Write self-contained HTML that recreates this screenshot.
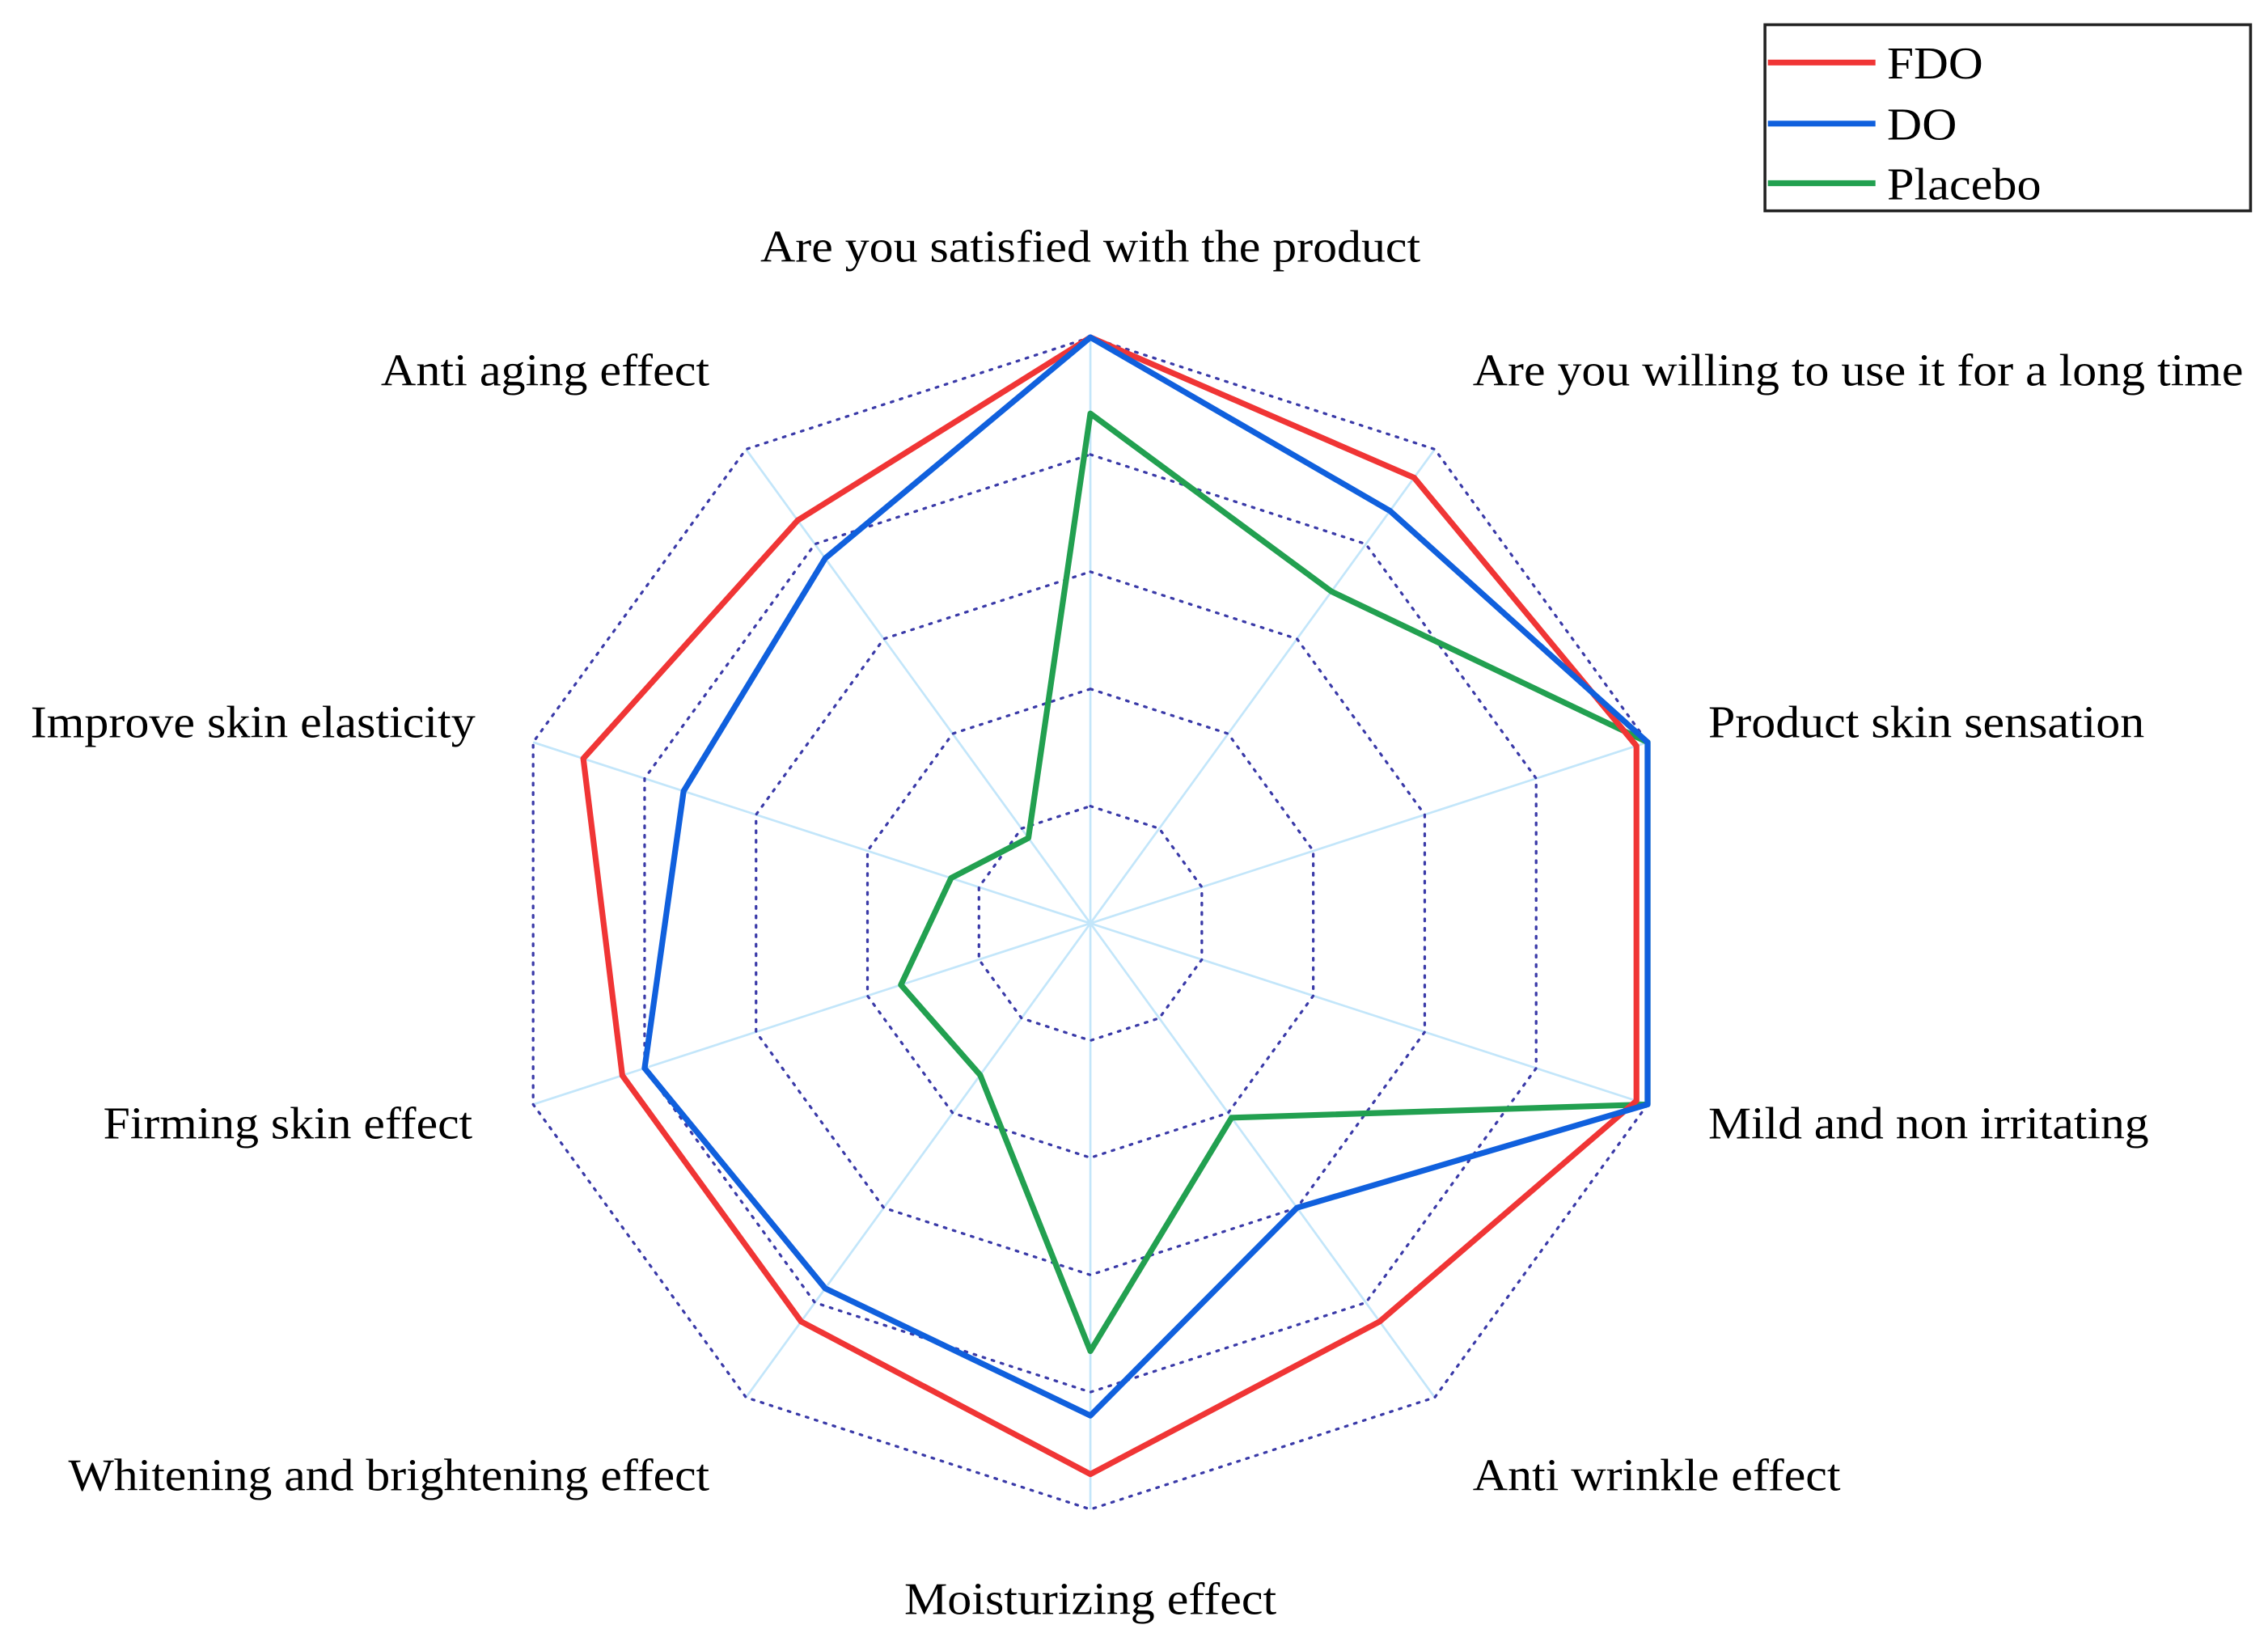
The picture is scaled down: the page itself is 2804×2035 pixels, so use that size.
<!DOCTYPE html>
<html><head><meta charset="utf-8"><style>
html,body{margin:0;padding:0;background:#fff;}
svg{display:block;}
text{font-family:"Liberation Serif",serif;fill:#000;}
</style></head><body>
<svg id="chart" width="2804" height="2035" viewBox="0 0 1560 1132" preserveAspectRatio="none" xmlns="http://www.w3.org/2000/svg">
<g id="grid"></g>
<g id="series"></g>
<g id="labels"></g>
<g id="legend">
<rect x="1214" y="17" width="334" height="128" fill="#fff" stroke="#222" stroke-width="2"/>
<line x1="1216" y1="43" x2="1290" y2="43" stroke="#f03535" stroke-width="4"/>
<text x="1298" y="54" font-size="31" textLength="66" lengthAdjust="spacingAndGlyphs">FDO</text>
<line x1="1216" y1="85" x2="1290" y2="85" stroke="#1060dd" stroke-width="4"/>
<text x="1298" y="96" font-size="31" textLength="48" lengthAdjust="spacingAndGlyphs">DO</text>
<line x1="1216" y1="126" x2="1290" y2="126" stroke="#22a050" stroke-width="4"/>
<text x="1298" y="137" font-size="31" textLength="106" lengthAdjust="spacingAndGlyphs">Placebo</text>
</g>
</svg>
<script>
const categories = ["Are you satisfied with the product","Are you willing to use it for a long time","Product skin sensation","Mild and non irritating","Anti wrinkle effect","Moisturizing effect","Whitening and brightening effect","Firming skin effect","Improve skin elasticity","Anti aging effect"];
const fdoValues = [5.0,4.7,4.9,4.9,4.2,4.7,4.2,4.2,4.55,4.25];
const doValues = [5.0,4.35,5.0,5.0,3.0,4.2,3.85,4.0,3.65,3.85];
const placeboValues = [4.35,3.5,5.0,5.0,2.05,3.65,1.6,1.7,1.25,0.9];
const ringLevels = [1,2,3,4,5];
const maxValue = 5;

const NS="http://www.w3.org/2000/svg";
const cx=750, cy=635, R=403;
function ang(i){return i*2*Math.PI/categories.length;}
function pt(i,v){const r=R*v/maxValue;return [cx+r*Math.sin(ang(i)), cy-r*Math.cos(ang(i))];}
const grid=document.getElementById('grid');
categories.forEach((c,i)=>{
  const p=pt(i,maxValue);
  const l=document.createElementNS(NS,'line');
  l.setAttribute('x1',cx);l.setAttribute('y1',cy);l.setAttribute('x2',p[0]);l.setAttribute('y2',p[1]);
  l.setAttribute('stroke','#c3e6fa');l.setAttribute('stroke-width','1.5');
  
  
  grid.appendChild(l);
});
ringLevels.forEach(lv=>{
  const pts=categories.map((c,i)=>pt(i,lv).join(',')).join(' ');
  const pg=document.createElementNS(NS,'polygon');
  pg.setAttribute('points',pts);pg.setAttribute('fill','none');
  pg.setAttribute('stroke','#3a3aa8');pg.setAttribute('stroke-width','1.8');
  pg.setAttribute('stroke-dasharray','1.5 5');pg.setAttribute('stroke-linecap','round');
  
  
  grid.appendChild(pg);
});
const series=document.getElementById('series');
[[placeboValues,'#22a050','series-placebo'],[doValues,'#1060dd','series-do'],[fdoValues,'#f03535','series-fdo']];
const order=[[placeboValues,'#22a050','series-placebo'],[fdoValues,'#f03535','series-fdo'],[doValues,'#1060dd','series-do']];
order.forEach(s=>{
  const pts=s[0].map((v,i)=>pt(i,v).join(',')).join(' ');
  const pg=document.createElementNS(NS,'polygon');
  pg.setAttribute('points',pts);pg.setAttribute('fill','none');
  pg.setAttribute('stroke',s[1]);pg.setAttribute('stroke-width','4');
  pg.setAttribute('stroke-linejoin','round');
  
  
  series.appendChild(pg);
});
const labelPos=[[750,180,'middle',454],[1013,265,'start',530],[1175,507,'start',300],[1175,783,'start',303],[1013,1025,'start',253],[750,1110,'middle',256],[488,1025,'end',441],[325,783,'end',254],[327,507,'end',306],[488,265,'end',226]];
const labels=document.getElementById('labels');
categories.forEach((c,i)=>{
  const t=document.createElementNS(NS,'text');
  const p=labelPos[i];
  t.setAttribute('x',p[0]);t.setAttribute('y',p[1]);t.setAttribute('text-anchor',p[2]);
  t.setAttribute('font-size','31');t.setAttribute('textLength',p[3]);t.setAttribute('lengthAdjust','spacingAndGlyphs');
  t.textContent=c;
  
  
  labels.appendChild(t);
});
</script>
</body></html>
